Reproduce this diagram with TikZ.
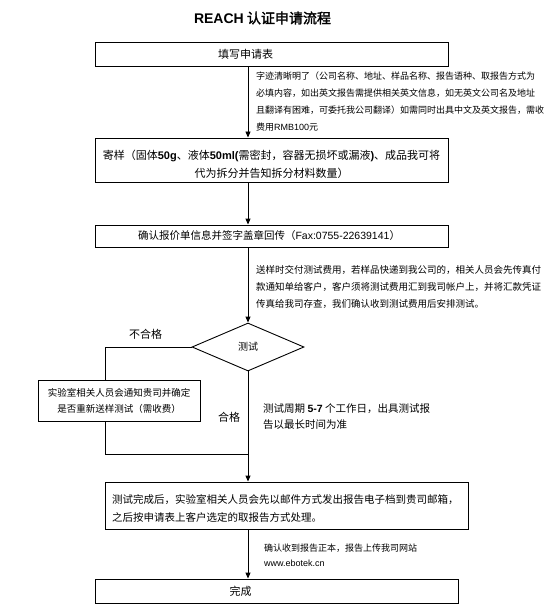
\documentclass[tikz,border=0pt]{standalone}
\usepackage{fontspec}
\setmainfont{Liberation Sans}
\newfontfamily\cjk{Noto Sans CJK SC}[AutoFakeBold=2]
\usetikzlibrary{shapes.geometric,arrows.meta}
\newcommand\la[1]{{\rmfamily #1}}
\begin{document}
\begin{tikzpicture}[x=1pt,y=-1pt,
  box/.style={draw, line width=0.9pt, inner sep=0pt, rectangle},
  arr/.style={line width=0.9pt, -{Triangle[length=6pt,width=5pt]}},
  ln/.style={line width=0.9pt},
  note/.style={inner sep=0pt, anchor=north west, align=left},
  lbl/.style={inner sep=0pt}]
\useasboundingbox (0,0) rectangle (557,612);
\fill[white] (0,0) rectangle (557,612);

% title
\node[lbl, font=\cjk\fontsize{14}{16}\selectfont\bfseries] (title) at (262.5,18) {\la{REACH} 认证申请流程};

% boxes
\node[box, minimum width=353pt, minimum height=24pt] (b1) at (271.5,54) {};
\node[lbl, font=\cjk\fontsize{11}{13}\selectfont] (t1) at (245.5,54) {填写申请表};

\node[box, minimum width=353pt, minimum height=44pt] (b2) at (271.5,160) {};
\node[lbl, anchor=north, align=center, font=\cjk\fontsize{11}{18}\selectfont] (t2) at (271.5,150) {寄样（固体\la{\textbf{50g}}、液体\la{\textbf{50ml(}}需密封，容器无损坏或漏液\la{\textbf{)}}、成品我可将\\代为拆分并告知拆分材料数量）};

\node[box, minimum width=353pt, minimum height=22pt] (b3) at (271.5,236) {};
\node[lbl, font=\cjk\fontsize{10.5}{13}\selectfont] (t3) at (269,236) {确认报价单信息并签字盖章回传（\la{Fax:0755-22639141}）};

\node[draw, diamond, line width=0.9pt, inner sep=0pt, minimum width=112pt, minimum height=48pt] (d) at (248,347) {};
\node[lbl, font=\cjk\fontsize{10}{12}\selectfont] (td) at (248,347) {测试};

\node[box, minimum width=162pt, minimum height=41pt] (b4) at (119,400.5) {};
\node[lbl, anchor=north, align=center, font=\cjk\fontsize{9.5}{16}\selectfont] (t4) at (119,388) {实验室相关人员会通知贵司并确定\\是否重新送样测试（需收费）};

\node[box, minimum width=363pt, minimum height=47pt] (b5) at (286.5,505.5) {};
\node[note, font=\cjk\fontsize{10.5}{18}\selectfont] (t5) at (112,494.5) {测试完成后，实验室相关人员会先以邮件方式发出报告电子档到贵司邮箱，\\之后按申请表上客户选定的取报告方式处理。};

\node[box, minimum width=363pt, minimum height=24pt] (b6) at (276.5,591) {};
\node[lbl, font=\cjk\fontsize{11}{13}\selectfont] (t6) at (240.5,591) {完成};

% side notes
\node[note, font=\cjk\fontsize{9}{17}\selectfont] (n1) at (256,72) {字迹清晰明了（公司名称、地址、样品名称、报告语种、取报告方式为\\必填内容，如出英文报告需提供相关英文信息，如无英文公司名及地址\\且翻译有困难，可委托我公司翻译）如需同时出具中文及英文报告，需收\\费用\la{RMB100}元};

\node[note, font=\cjk\fontsize{9.5}{17}\selectfont] (n2) at (256,265.7) {送样时交付测试费用，若样品快递到我公司的，相关人员会先传真付\\款通知单给客户，客户须将测试费用汇到我司帐户上，并将汇款凭证\\传真给我司存查，我们确认收到测试费用后安排测试。};

\node[note, font=\cjk\fontsize{10.5}{16}\selectfont] (n3) at (263,403.3) {测试周期 \la{\textbf{5-7}} 个工作日，出具测试报\\告以最长时间为准};

\node[note, font=\cjk\fontsize{9}{15}\selectfont] (n4) at (264,544) {确认收到报告正本，报告上传我司网站\\\la{www.ebotek.cn}};

\node[lbl, font=\cjk\fontsize{11}{13}\selectfont] (fail) at (145.5,334) {不合格};
\node[lbl, font=\cjk\fontsize{11}{13}\selectfont] (pass) at (229,417) {合格};

% connectors
\coordinate (lx) at (105,0);
\coordinate (j) at (248,454);
\draw[arr] (d.north |- b1.south) -- (d.north |- b2.north);
\draw[arr] (d.north |- b2.south) -- (d.north |- b3.north);
\draw[arr] (d.north |- b3.south) -- (d.north);
\draw[arr] (d.south) -- (d.south |- b5.north);
\draw[arr] (d.south |- b5.south) -- (d.south |- b6.north);
\draw[ln] (d.west) -| (lx |- b4.north);
\draw[ln] (lx |- b4.south) |- (j);
\end{tikzpicture}
\end{document}
